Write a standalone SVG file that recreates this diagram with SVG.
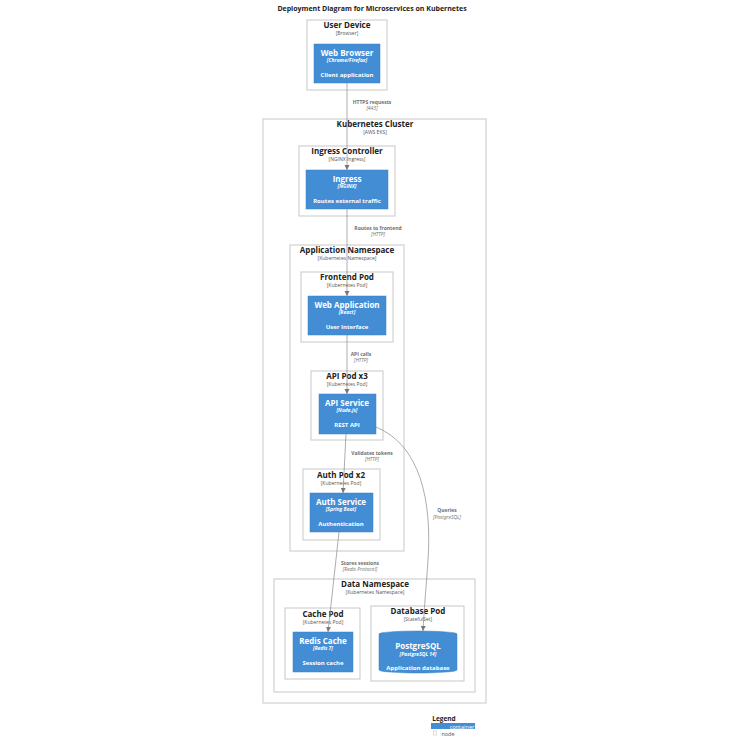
<svg xmlns="http://www.w3.org/2000/svg" width="750" height="750" viewBox="0 0 750 750">
<style>
text{font-family:"Open Sans","Liberation Sans",sans-serif;text-anchor:middle}
.bd{fill:#fff;stroke:#c8c8c8;stroke-width:1}
.t{font-size:8px;font-weight:bold;fill:#222}
.s{font-size:5px;fill:#555}
.c{fill:#438dd5;stroke:#3c7fc0;stroke-width:0.5}
.ct{font-size:8px;font-weight:bold;fill:#fff}
.cs{font-size:5px;font-style:italic;font-weight:bold;fill:#fff}
.cd{font-size:6px;font-weight:bold;fill:#fff}
.l{font-size:5px;font-weight:bold;fill:#707070}
.li{font-size:5px;font-style:italic;fill:#707070}
.e{fill:none;stroke:#8a8a8a;stroke-width:0.7}
</style>
<defs><marker id="a" markerWidth="6" markerHeight="6" refX="5" refY="3" orient="auto" markerUnits="userSpaceOnUse"><path d="M0,0.5L5,3L0,5.5z" fill="#777"/></marker></defs>
<rect width="750" height="750" fill="#fff"/>
<text x="372" y="11" style="font-size:7px;font-weight:bold;fill:#222">Deployment Diagram for Microservices on Kubernetes</text>
<g id="user-device"><rect class="bd" x="307" y="20" width="80" height="70"/><text class="t" x="347" y="28">User Device</text><text class="s" x="347" y="35">[Browser]</text></g>
<g id="web-browser"><rect class="c" x="314" y="44" width="66" height="39"/><text class="ct" x="347" y="56">Web Browser</text><text class="cs" x="347" y="62">[Chrome/Firefox]</text><text class="cd" x="347" y="77">Client application</text></g>
<g id="k8s-cluster"><rect class="bd" x="263" y="119" width="223" height="584"/><text class="t" x="375" y="127">Kubernetes Cluster</text><text class="s" x="375" y="134">[AWS EKS]</text></g>
<g id="ingress-controller"><rect class="bd" x="299" y="146" width="96" height="70"/><text class="t" x="347" y="154">Ingress Controller</text><text class="s" x="347" y="161">[NGINX Ingress]</text></g>
<g id="ingress"><rect class="c" x="306" y="170" width="82" height="39"/><text class="ct" x="347" y="182">Ingress</text><text class="cs" x="347" y="188">[NGINX]</text><text class="cd" x="347" y="203">Routes external traffic</text></g>
<g id="app-namespace"><rect class="bd" x="290" y="245" width="114" height="306"/><text class="t" x="347" y="253">Application Namespace</text><text class="s" x="347" y="260">[Kubernetes Namespace]</text></g>
<g id="frontend-pod"><rect class="bd" x="301" y="272" width="92" height="70"/><text class="t" x="347" y="280">Frontend Pod</text><text class="s" x="347" y="287">[Kubernetes Pod]</text></g>
<g id="web-app"><rect class="c" x="308" y="296" width="78" height="39"/><text class="ct" x="347" y="308">Web Application</text><text class="cs" x="347" y="314">[React]</text><text class="cd" x="347" y="329">User Interface</text></g>
<g id="api-pod"><rect class="bd" x="311" y="371" width="72" height="69"/><text class="t" x="347" y="379">API Pod x3</text><text class="s" x="347" y="386">[Kubernetes Pod]</text></g>
<g id="api-service"><rect class="c" x="319" y="394" width="57" height="40"/><text class="ct" x="347" y="406">API Service</text><text class="cs" x="347" y="412">[Node.js]</text><text class="cd" x="347" y="427">REST API</text></g>
<g id="auth-pod"><rect class="bd" x="303" y="469" width="77" height="71"/><text class="t" x="341" y="478">Auth Pod x2</text><text class="s" x="341" y="485">[Kubernetes Pod]</text></g>
<g id="auth-service"><rect class="c" x="310" y="493" width="63" height="39"/><text class="ct" x="341" y="505">Auth Service</text><text class="cs" x="341" y="511">[Spring Boot]</text><text class="cd" x="341" y="526">Authentication</text></g>
<g id="data-namespace"><rect class="bd" x="274" y="579" width="201" height="113"/><text class="t" x="375" y="587">Data Namespace</text><text class="s" x="375" y="594">[Kubernetes Namespace]</text></g>
<g id="cache-pod"><rect class="bd" x="285" y="608" width="75" height="71"/><text class="t" x="323" y="617">Cache Pod</text><text class="s" x="323" y="624">[Kubernetes Pod]</text></g>
<g id="redis"><rect class="c" x="293" y="632" width="60" height="40"/><text class="ct" x="323" y="644">Redis Cache</text><text class="cs" x="323" y="650">[Redis 7]</text><text class="cd" x="323" y="665">Session cache</text></g>
<g id="database-pod"><rect class="bd" x="371" y="606" width="93" height="75"/><text class="t" x="418" y="614">Database Pod</text><text class="s" x="418" y="621">[StatefulSet]</text></g>
<g id="postgres"><path class="c" d="M379,634 A39,3 0 0 1 457,634 L457,670 A39,3 0 0 1 379,670 Z"/><text class="ct" x="418" y="649">PostgreSQL</text><text class="cs" x="418" y="656">[PostgreSQL 14]</text><text class="cd" x="418" y="670">Application database</text></g>
<g id="connectors">
<path class="e" d="M347,83V170" marker-end="url(#a)"/>
<text class="l" x="372" y="104">HTTPS requests</text><text class="li" x="372" y="110">[443]</text>
<path class="e" d="M347,209V296" marker-end="url(#a)"/>
<text class="l" x="378" y="230">Routes to frontend</text><text class="li" x="378" y="236">[HTTP]</text>
<path class="e" d="M347,335V394" marker-end="url(#a)"/>
<text class="l" x="361" y="356">API calls</text><text class="li" x="361" y="362">[HTTP]</text>
<path class="e" d="M346,434L343,493" marker-end="url(#a)"/>
<text class="l" x="372" y="455">Validates tokens</text><text class="li" x="372" y="461">[HTTP]</text>
<path class="e" d="M376,427C420,445 432,500 428,560C426,590 424,610 423,631" marker-end="url(#a)"/>
<text class="l" x="447" y="512">Queries</text><text class="li" x="447" y="519">[PostgreSQL]</text>
<path class="e" d="M339,532L328,632" marker-end="url(#a)"/>
<text class="l" x="360" y="565">Stores sessions</text><text class="li" x="360" y="571">[Redis Protocol]</text>
</g>
<g id="legend"><text x="444" y="721" style="font-size:6.5px;font-weight:bold;fill:#222">Legend</text><rect x="431" y="723" width="44" height="6" fill="#438dd5"/><text x="462" y="728.5" style="font-size:5.5px;fill:#fff">container</text><rect x="433.5" y="731" width="3" height="4" fill="none" stroke="#bbb" stroke-width="0.5"/><text x="448" y="736" style="font-size:5.5px;fill:#555">node</text></g>
</svg>
